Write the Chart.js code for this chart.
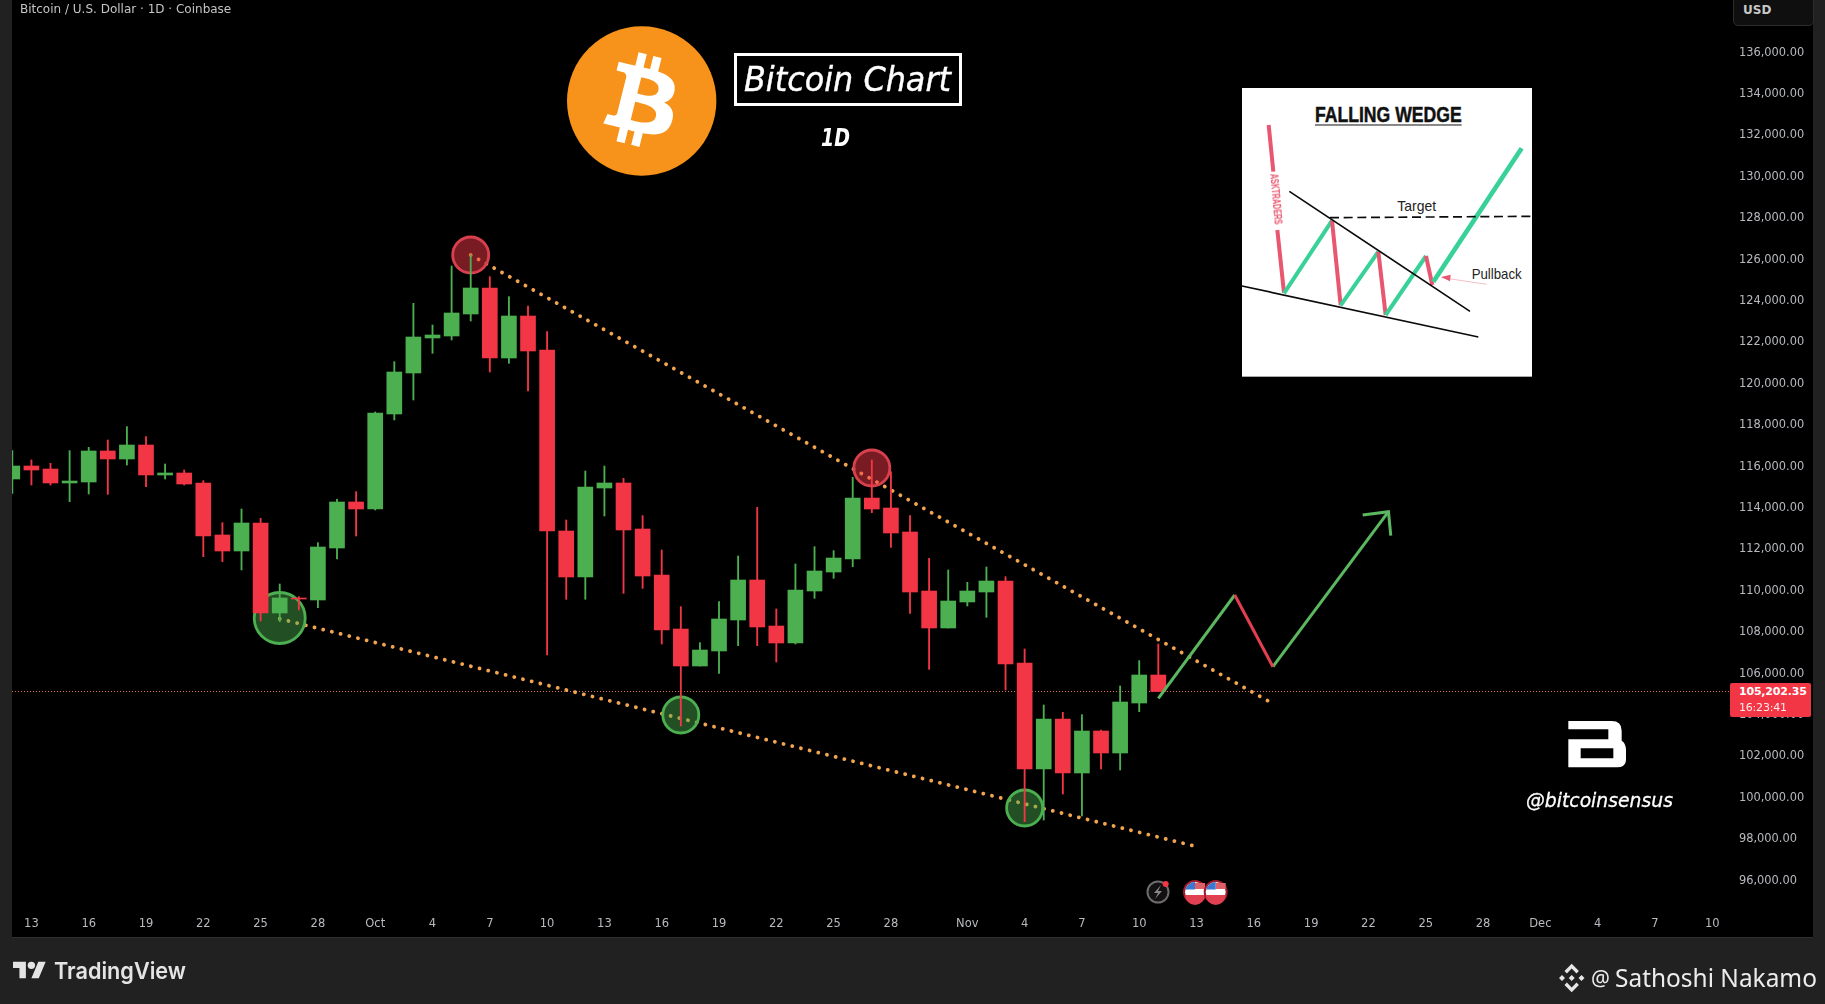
<!DOCTYPE html>
<html><head><meta charset="utf-8">
<script src="https://cdn.jsdelivr.net/npm/chart.js@4"></script>
<style>
html,body{margin:0;padding:0;background:#212121;width:1825px;height:1004px;overflow:hidden}
#pane{position:absolute;left:12px;top:0;width:1801px;height:937px;background:#000;border-bottom:1px solid #303030}
#c{position:absolute;left:0;top:0}
svg{position:absolute;left:0;top:0;pointer-events:none}
.t{position:absolute;white-space:nowrap}
#tag{position:absolute;left:1730px;width:81px;height:34px;background:#f23645;border-radius:2px;color:#fff;font:bold 11px "DejaVu Sans";letter-spacing:-.2px;padding-left:9px;box-sizing:border-box;line-height:16px;padding-top:1px}
#tag span{display:block}
#tag .cd{font-weight:normal;opacity:.9}
</style></head><body>
<div id="pane"></div>
<canvas id="c" width="1825" height="1004"></canvas>
<div class="t" style="left:20px;top:1px;font:12px/16px 'DejaVu Sans';color:#c4c4c4">Bitcoin / U.S. Dollar · 1D · Coinbase</div>
<div class="t" style="left:1733px;top:-1px;width:79px;height:25px;border:1px solid #2c2c2c;border-radius:0 0 5px 5px;background:#0f0f0f"></div>
<div class="t" style="left:1743px;top:2px;font:bold 12px/16px 'DejaVu Sans';color:#c8c8c8">USD</div>
<svg width="1825" height="1004" viewBox="0 0 1825 1004" xmlns="http://www.w3.org/2000/svg">
  <!-- Bitcoin logo -->
  <g transform="translate(567,26.3) scale(2.334)">
    <circle cx="32" cy="32" r="32" fill="#f7931a"/>
    <path fill="#fff" d="M46.11 27.441c.636-4.258-2.606-6.547-7.039-8.074l1.438-5.768-3.512-.875-1.4 5.616c-.922-.23-1.87-.447-2.812-.662l1.41-5.653-3.509-.875-1.439 5.766c-.764-.174-1.514-.346-2.242-.527l.004-.018-4.842-1.209-.934 3.75s2.605.597 2.55.634c1.422.355 1.68 1.296 1.636 2.042l-1.638 6.571c.098.025.225.061.365.117l-.37-.092-2.297 9.205c-.174.432-.615 1.08-1.609.834.035.051-2.552-.637-2.552-.637l-1.743 4.02 4.57 1.139c.85.213 1.683.436 2.502.646l-1.453 5.835 3.507.875 1.44-5.772c.957.26 1.887.5 2.797.726L27.504 50.8l3.511.875 1.453-5.823c5.987 1.133 10.49.676 12.383-4.738 1.527-4.36-.075-6.875-3.225-8.516 2.294-.531 4.022-2.04 4.483-5.157zM38.087 38.69c-1.086 4.36-8.426 2.004-10.807 1.412l1.928-7.729c2.38.594 10.011 1.77 8.88 6.317zm1.085-11.312c-.99 3.966-7.1 1.951-9.083 1.457l1.748-7.01c1.983.494 8.367 1.416 7.335 5.553z"/>
  </g>
  <!-- Title -->
  <rect x="735.5" y="54.5" width="225" height="50" fill="#000" stroke="#fff" stroke-width="3"/>
  <text x="744" y="91" font-family="DejaVu Sans" font-style="italic" font-size="34" fill="#fff" stroke="#fff" stroke-width=".4" textLength="207" lengthAdjust="spacingAndGlyphs">Bitcoin Chart</text>
  <text x="821" y="146" font-family="DejaVu Sans" font-style="italic" font-weight="bold" font-size="25" fill="#fff" textLength="29" lengthAdjust="spacingAndGlyphs">1D</text>
  <!-- Inset -->
  <g transform="translate(1220,70) scale(.33333)">
    <rect x="66" y="54" width="870" height="866" fill="#fff"/>
    <text x="285" y="157" font-family="Liberation Sans Narrow, Liberation Sans" font-weight="bold" font-size="66" fill="#111" stroke="#111" stroke-width="1.5" textLength="440" lengthAdjust="spacingAndGlyphs">FALLING WEDGE</text>
    <line x1="285" y1="165" x2="725" y2="165" stroke="#111" stroke-width="3"/>
    <g fill="none" stroke-linecap="butt">
      <path d="M146 165L160 305M172 480L192 668" stroke="#e8566f" stroke-width="12"/>
      <path d="M192 670L336 452" stroke="#38d197" stroke-width="12"/>
      <path d="M336 452L362 706" stroke="#e8566f" stroke-width="12"/>
      <path d="M362 706L475 545" stroke="#38d197" stroke-width="12"/>
      <path d="M475 545L497 735" stroke="#e8566f" stroke-width="12"/>
      <path d="M497 735L618 558" stroke="#38d197" stroke-width="12"/>
      <path d="M618 558L637 645" stroke="#e8566f" stroke-width="12"/>
      <path d="M640 635L905 235" stroke="#38d197" stroke-width="14"/>
      <path d="M208 364L750 724M66 648L775 801" stroke="#0b0b0b" stroke-width="5"/>
      <path d="M330 443L936 439" stroke="#0b0b0b" stroke-width="5" stroke-dasharray="27 14"/>
      <path d="M680 625L800 643" stroke="#e8a0a8" stroke-width="2"/>
    </g>
    <path d="M663 621L692 614L690 634Z" fill="#e8566f"/>
    <text x="590" y="424" text-anchor="middle" font-family="Liberation Sans Narrow, Liberation Sans" font-size="42" fill="#222">Target</text>
    <text x="755" y="627" font-family="Liberation Sans Narrow, Liberation Sans" font-size="42" fill="#222" textLength="150" lengthAdjust="spacingAndGlyphs">Pullback</text>
    <text transform="translate(150,312) rotate(85)" font-family="Liberation Sans Narrow, Liberation Sans" font-weight="bold" font-size="35" fill="#e8566f" textLength="153" lengthAdjust="spacingAndGlyphs">ASKTRADERS</text>
  </g>
  <!-- Watermark -->
  <g transform="translate(1540,700) scale(.33333)">
    <path fill="#fff" fill-rule="evenodd" d="M85 63H215Q245 63 245 92V122Q258 130 258 150V178Q258 202 232 202H85V118H205V88H85ZM122 145H220V175H122Z"/>
  </g>
  <text x="1526" y="807" font-family="DejaVu Sans" font-style="italic" font-size="20" fill="#fff" stroke="#fff" stroke-width=".3" textLength="147" lengthAdjust="spacingAndGlyphs">@bitcoinsensus</text>
  <!-- Event icons -->
  <g>
    <circle cx="1158" cy="892" r="10.5" fill="#111" stroke="#6e6a6e" stroke-width="2"/>
    <path d="M1161 885L1154 893H1158L1155 899L1162 891H1158Z" fill="#8a8588"/>
    <circle cx="1165.7" cy="884" r="3" fill="#f23645"/>
    <g>
      <circle cx="1195" cy="892" r="11" fill="#fff" stroke="#a01c2c" stroke-width="2"/>
      <path d="M1185 895H1205A10 10 0 0 1 1185 895Z" fill="#e0404f"/>
      <path d="M1195 883H1205V889H1195Z" fill="#e0606a"/>
      <path d="M1195 882A10 10 0 0 0 1185.5 889.5H1195Z" fill="#3a78d0"/>
    </g>
    <g>
      <circle cx="1215.7" cy="892" r="11" fill="#fff" stroke="#a01c2c" stroke-width="2"/>
      <path d="M1205.7 895H1225.7A10 10 0 0 1 1205.7 895Z" fill="#e0404f"/>
      <path d="M1215.7 883H1225.7V889H1215.7Z" fill="#e0606a"/>
      <path d="M1215.7 882A10 10 0 0 0 1206.2 889.5H1215.7Z" fill="#3a78d0"/>
    </g>
  </g>
  <!-- TradingView -->
  <g transform="translate(13,958) scale(.92)" fill="#e4e4e4">
    <path d="M14 22H7V11H0V4h14v18zM28 22h-8l7.5-18h8L28 22z"/><circle cx="20" cy="8" r="4"/>
  </g>
  <text x="54" y="979" font-family="Inter" font-weight="600" font-size="23" fill="#e4e4e4" textLength="132" lengthAdjust="spacingAndGlyphs">TradingView</text>
  <!-- Credit -->
  <g fill="#e6e6e6">
    <path d="M1559 978l3-3 3 3-3 3zM1578.5 978l3-3 3 3-3 3zM1571.7 975l3 3-3 3-3-3z"/>
    <path d="M1564.5 971l7.2-7.2 7.2 7.2-2.4 2.4-4.8-4.8-4.8 4.8zM1564.5 985l2.4-2.4 4.8 4.8 4.8-4.8 2.4 2.4-7.2 7.2z"/>
  </g>
  <text x="1591" y="986" font-family="Noto Sans" font-size="21" fill="#ececec">@</text>
  <text x="1615" y="987" font-family="Noto Sans" font-size="25" fill="#ececec" textLength="202" lengthAdjust="spacingAndGlyphs">Sathoshi Nakamo</text>
</svg>
<div id="tag"><span>105,202.35</span><span class="cd">16:23:41</span></div>
<script>
// Candles, Sep 12 → Nov 11 (daily)
const opens=[115406,116034,115889,115213,115261,116759,116372,117048,115599,115696,115213,112701,111928,113280,108932,109657,109560,112073,114295,113957,118546,120527,122218,122314,123377,124633,121251,123280,121638,112894,110672,114971,115213,112990,110768,108159,106372,107097,108594,110527,108304,107483,109995,110913,111541,114487,114005,112845,109995,108208,109464,109947,110478,106517,101396,103812,101203,103232,102169,104584,105937];
const highs=[116775,116324,116163,116775,116936,117290,117934,117451,116130,115841,115325,113296,113957,113506,110333,109722,112330,114424,114794,118643,121074,123892,122845,125696,126227,125180,124214,123763,122524,113425,115792,116034,115438,113634,111976,109238,107499,109480,111686,114037,109126,111300,112137,111944,115486,116324,115760,113634,111573,111010,110414,111155,110688,107193,104488,104134,104021,103280,105406,106630,107435];
const lows=[114714,115116,115116,114311,114681,114665,116082,115036,115406,115116,111654,111413,111010,108546,108514,109077,109190,111541,112652,113908,118256,119222,121477,122121,123039,120575,120994,119657,106904,109593,109593,113618,109882,110124,107435,103473,106372,106018,107354,107354,106565,107435,109641,110607,111171,113779,112105,108916,106211,108208,109270,108723,105213,98852,98932,100188,99126,101396,101348,104166,105140];
const closes=[116034,115841,115213,115309,116759,116372,117048,115599,115696,115164,112652,111928,113280,108932,109657,109609,112121,114295,113957,118594,120575,122266,122362,123425,124633,121251,123280,121590,112894,110672,115019,115213,112942,110720,108111,106372,107145,108643,110527,108256,107483,110043,110961,111589,114487,113956,112797,109947,108208,109512,109995,110478,106468,101396,103812,101203,103232,102169,104633,105937,105140];
// Axis ticks (day numbers counted from Sep 13)
const tickDays=[0,3,6,9,12,15,18,21,24,27,30,33,36,39,42,45,49,52,55,58,61,64,67,70,73,76,79,82,85,88];
const tickLabels=['13','16','19','22','25','28','Oct','4','7','10','13','16','19','22','25','28','Nov','4','7','10','13','16','19','22','25','28','Dec','4','7','10'];
const priceTicks=[96000,98000,100000,102000,104000,106000,108000,110000,112000,114000,116000,118000,120000,122000,124000,126000,128000,130000,132000,134000,136000];
const lastPrice=105140;
// Drawn trend lines and projection
const upperDays=[23,64.94], upperPrices=[126227,104585];
const lowerDays=[13,60.9], lowerPrices=[108652,97670];
const riseDays=[59,63], risePrices=[104812,109802];
const dipDays=[63,65], dipPrices=[109802,106338];
const finalDays=[65,71.05], finalPrices=[106338,113826];
const headDays=[69.7,71.05,71.17], headPrices=[113667,113826,112667];
// Swing markers
const topDays=[23,44], topPrices=[126227,115937];
const bottomDays=[34,52], bottomPrices=[104005,99512];
const bigBottomDays=[13], bigBottomPrices=[108691];

const GREEN='#4caf50', RED='#f23645', DOT='#f2a44e', TXT='#b8bac0';
const days=opens.map((_,i)=>i-1);
const xy=(xs,ys)=>xs.map((x,i)=>({x,y:ys[i]}));
const candleColor=days.map((_,i)=>closes[i]>=opens[i]?GREEN:RED);
const xMin=-1.016,xMax=88.93,yMin=94681,yMax=138546;

const line=(data,color,order,extra)=>Object.assign({type:'line',data,borderColor:color,borderWidth:3,pointRadius:0,order,clip:true,fill:false,tension:0},extra||{});
const dots={borderDash:[.1,8.85],borderCapStyle:'round',borderWidth:3.8};
const marker=(data,fill,stroke,r,order)=>({type:'line',data,showLine:false,pointRadius:r,pointBackgroundColor:fill,pointBorderColor:stroke,pointBorderWidth:2.8,order});

const tagPlugin={id:'tag',afterRender(chart){
  const y=chart.scales.y.getPixelForValue(lastPrice);
  const el=document.getElementById('tag');el.style.top=(y-9)+'px';
}};

new Chart(document.getElementById('c'),{
  type:'bar',
  plugins:[tagPlugin],
  data:{datasets:[
    line(xy([xMin,xMax],[lastPrice,lastPrice]),'#d9705a',12,{borderWidth:1,borderDash:[1,2]}),
    line(xy(upperDays,upperPrices),DOT,11,dots),
    line(xy(lowerDays,lowerPrices),DOT,11,dots),
    marker(xy(topDays,topPrices),'rgba(242,54,69,.5)','#d9404e',18,9),
    marker(xy(bottomDays,bottomPrices),'rgba(76,175,80,.45)','#4caf50',18,9),
    marker(xy(bigBottomDays,bigBottomPrices),'rgba(76,175,80,.45)','#4caf50',25.5,9),
    {type:'bar',grouped:false,data:days.map((d,i)=>({x:d,y:[lows[i],highs[i]]})),backgroundColor:candleColor,barThickness:1.2,borderWidth:0,order:6},
    {type:'bar',grouped:false,data:days.map((d,i)=>({x:d,y:[opens[i],closes[i]]})),backgroundColor:candleColor,barThickness:15,borderWidth:0,order:5},
    line(xy(riseDays,risePrices),'#5cb860',3),
    line(xy(dipDays,dipPrices),'#e2404f',2),
    line(xy(finalDays,finalPrices),'#5cb860',3),
    line(xy(headDays,headPrices),'#5cb860',3),
  ]},
  options:{
    responsive:false,devicePixelRatio:1,animation:false,events:[],
    layout:{autoPadding:false,padding:{left:12,right:12,top:0,bottom:67}},
    plugins:{legend:{display:false},tooltip:{enabled:false},title:{display:false}},
    scales:{
      x:{type:'linear',min:xMin,max:xMax,offset:false,grid:{display:false},border:{display:false},
        afterBuildTicks(s){s.ticks=tickDays.map(v=>({value:v}));},
        afterFit(s){s.height=29;s.paddingLeft=0;s.paddingRight=0;},
        ticks:{autoSkip:false,maxRotation:0,color:TXT,font:{family:'DejaVu Sans',size:11.5},padding:1,
          callback:v=>tickLabels[tickDays.indexOf(v)]}},
      y:{type:'linear',position:'right',min:yMin,max:yMax,grid:{display:false},border:{display:false},
        afterBuildTicks(s){s.ticks=priceTicks.map(v=>({value:v}));},
        afterFit(s){s.width=83;s.paddingTop=0;s.paddingBottom=0;},
        ticks:{autoSkip:false,color:TXT,font:{family:'DejaVu Sans',size:11.4},padding:1,
          callback:v=>v.toLocaleString('en-US',{minimumFractionDigits:2,maximumFractionDigits:2})}}
    }
  }
});
</script>
</body></html>
